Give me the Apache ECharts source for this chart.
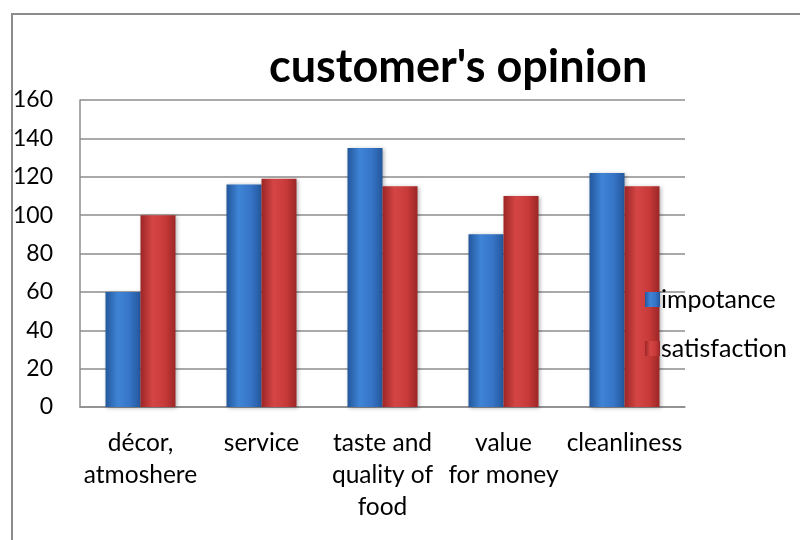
<!DOCTYPE html>
<html>
<head>
<meta charset="utf-8">
<script src="https://cdn.jsdelivr.net/npm/echarts@6/dist/echarts.min.js"></script>
<style>
  html, body { margin: 0; padding: 0; background: #fff; }
  #chart { width: 800px; height: 540px; }
</style>
</head>
<body>
<div id="chart"></div>
<script>
const categories = ["décor,\natmoshere", "service", "taste and\nquality of\nfood", "value\nfor money", "cleanliness"];
const importance = [60, 116, 135, 90, 122];
const satisfaction = [100, 119, 115, 110, 115];
const seriesNames = ["impotance", "satisfaction"];
const yTicks = { min: 0, max: 160, interval: 20 };

const FONT = "Lato";

function grad(dark, mid, light) {
  return new echarts.graphic.LinearGradient(0, 0, 1, 0, [
    { offset: 0, color: dark },
    { offset: 0.35, color: light },
    { offset: 0.7, color: mid },
    { offset: 1, color: dark }
  ]);
}
const blueFill = grad('#23579c', '#3674c6', '#3f84d6');
const redFill = grad('#9c2626', '#c83a3a', '#d54545');

const chart = echarts.init(document.getElementById('chart'), null, { renderer: 'canvas' });
chart.setOption({
  backgroundColor: '#ffffff',
  animation: false,
  graphic: [{
    type: 'polyline',
    shape: { points: [[12, 540], [12, 14], [800, 14]] },
    style: { stroke: '#8c8c8c', lineWidth: 2, fill: null },
    silent: true
  }],
  title: {
    text: "customer's opinion",
    left: 264,
    top: 40,
    textStyle: { fontFamily: FONT, fontWeight: 'bold', fontSize: 45, color: '#000' }
  },
  legend: {
    orient: 'vertical',
    left: 640,
    top: 282,
    itemWidth: 15,
    itemHeight: 15,
    itemGap: 24,
    icon: 'rect',
    data: seriesNames,
    textStyle: { fontFamily: FONT, fontSize: 25, color: '#000', padding: [0, 0, 0, -4] }
  },
  grid: { left: 80, right: 115, top: 100, bottom: 133, containLabel: false },
  xAxis: {
    type: 'category',
    data: categories,
    axisLine: { show: true, lineStyle: { color: '#8c8c8c', width: 1.5 } },
    axisTick: { show: false },
    axisLabel: { fontFamily: FONT, fontSize: 24.5, color: '#000', margin: 20, lineHeight: 32, interval: 0 }
  },
  yAxis: {
    type: 'value',
    min: yTicks.min,
    max: yTicks.max,
    interval: yTicks.interval,
    axisLine: { show: true, lineStyle: { color: '#8c8c8c', width: 1.5 } },
    axisTick: { show: false },
    splitLine: { show: true, lineStyle: { color: '#8c8c8c', width: 1.5 } },
    axisLabel: { fontFamily: FONT, fontSize: 23, color: '#000', margin: 27 }
  },
  series: [
    {
      name: seriesNames[0],
      type: 'bar',
      data: importance,
      barWidth: 35,
      barGap: '0%',
      itemStyle: { color: blueFill, shadowColor: 'rgba(0,0,0,0.3)', shadowBlur: 4, shadowOffsetX: 1, shadowOffsetY: 1 }
    },
    {
      name: seriesNames[1],
      type: 'bar',
      data: satisfaction,
      barWidth: 35,
      barGap: '0%',
      itemStyle: { color: redFill, shadowColor: 'rgba(0,0,0,0.3)', shadowBlur: 4, shadowOffsetX: 1, shadowOffsetY: 1 }
    }
  ]
});
</script>
</body>
</html>
